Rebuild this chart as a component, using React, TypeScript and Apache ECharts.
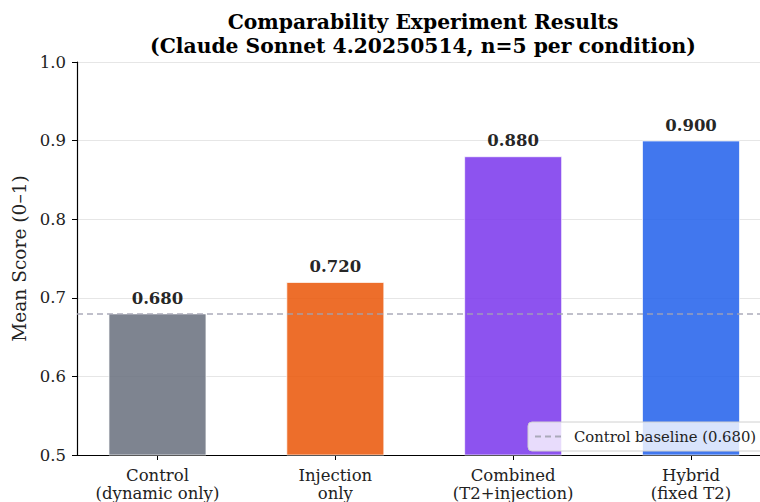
import React, { useEffect, useRef } from "react";
import * as echarts from "echarts";

const categories = ["Control\n(dynamic only)", "Injection\nonly", "Combined\n(T2+injection)", "Hybrid\n(fixed T2)"];
const scores = [0.68, 0.72, 0.88, 0.9];
const barColors = ["#6b7280", "#ea580c", "#7c3aed", "#2563eb"];
const baseline = 0.68;
const yTicks = [0.5, 0.6, 0.7, 0.8, 0.9, 1.0];
const titleText = "Comparability Experiment Results\n(Claude Sonnet 4.20250514, n=5 per condition)";
const FONT = "'DejaVu Serif', serif";

export default function App() {
  const ref = useRef<HTMLDivElement>(null);
  useEffect(() => {
    if (!ref.current) return;
    const chart = echarts.init(ref.current, null, { renderer: "svg" });
    const xIdx = categories.map((_, i) => i);
    chart.setOption({
      animation: false,
      backgroundColor: "#ffffff",
      title: {
        text: titleText,
        left: 418,
        top: 5,
        textAlign: "center",
        textStyle: { fontFamily: FONT, fontSize: 20.3, fontWeight: "bold", color: "#000", lineHeight: 24 },
      },
      legend: {
        left: 528,
        top: 422,
        data: [{ name: "Control baseline (0.680)" }],
        itemWidth: 28,
        itemHeight: 10,
        itemGap: 10,
        padding: [7, 8, 7, 6],
        backgroundColor: "rgba(255,255,255,0.8)",
        borderColor: "#d0d0d0",
        borderWidth: 1,
        borderRadius: 4,
        itemStyle: { opacity: 0 },
        textStyle: { fontFamily: FONT, fontSize: 14.8, color: "#222", padding: [0, 0, 0, 6] },
      },
      grid: { left: 77, right: 0, top: 62, bottom: 46, containLabel: false },
      xAxis: {
        type: "value",
        min: -0.4525,
        max: 3.388,
        splitLine: { show: false },
        axisLine: { show: true, onZero: false, lineStyle: { color: "#000", width: 1.2 } },
        axisTick: { show: true, customValues: xIdx, length: 5, lineStyle: { color: "#000" } },
        axisLabel: {
          customValues: xIdx,
          formatter: (v: number) => categories[Math.round(v)] ?? "",
          fontFamily: FONT,
          fontSize: 16.5,
          color: "#222",
          lineHeight: 18,
          margin: 11,
        },
      },
      yAxis: {
        type: "value",
        min: 0.5,
        max: 1.0,
        interval: 0.1,
        name: "Mean Score (0–1)",
        nameLocation: "middle",
        nameGap: 47,
        nameTextStyle: { fontFamily: FONT, fontSize: 18.6, color: "#222" },
        axisLine: { show: true, onZero: false, lineStyle: { color: "#000", width: 1.2 } },
        axisTick: { show: true, length: 5, lineStyle: { color: "#000" } },
        axisLabel: {
          fontFamily: FONT,
          fontSize: 16.5,
          color: "#222",
          margin: 11,
          formatter: (v: number) => (yTicks.some((t) => Math.abs(t - v) < 1e-9) ? v.toFixed(1) : ""),
        },
        splitLine: { show: true, lineStyle: { color: "#e6e6e6", width: 1 } },
      },
      series: [
        {
          type: "bar",
          barWidth: 97.8,
          data: scores.map((s, i) => ({
            value: [i, s],
            itemStyle: { color: barColors[i], opacity: 0.87, borderColor: "#ffffff", borderWidth: 0.8 },
          })),
          label: {
            show: true,
            position: "top",
            distance: 7,
            formatter: (p: any) => p.value[1].toFixed(3),
            fontFamily: FONT,
            fontSize: 16.5,
            fontWeight: "bold",
            color: "#000",
          },
        },
        {
          type: "line",
          name: "Control baseline (0.680)",
          data: [],
          symbol: "none",
          lineStyle: { type: [6, 4], color: "#a3a3b3", width: 1.5, opacity: 0.9 },
          itemStyle: { color: "#a3a3b3" },
          markLine: {
            silent: true,
            symbol: "none",
            label: { show: false },
            lineStyle: { type: [6, 4], color: "#a3a3b3", width: 1.5, opacity: 0.9 },
            data: [{ yAxis: baseline }],
          },
        },
      ],
    });
    return () => chart.dispose();
  }, []);
  return <div ref={ref} style={{ position: "fixed", left: 0, top: 0, width: 760, height: 502 }} />;
}
